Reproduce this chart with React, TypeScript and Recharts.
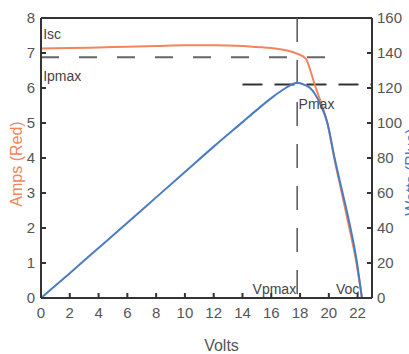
import React from "react";
import {
  LineChart,
  Line,
  XAxis,
  YAxis,
  ReferenceLine,
  ReferenceDot,
} from "recharts";

// I-V and P-V curve of a PV module
const volts = [0, 2, 4, 6, 8, 10, 12, 14, 15, 16, 17, 17.8, 18.4, 18.7, 19, 19.4, 19.9, 20.4, 20.9, 21.4, 21.9, 22.3];
const amps = [7.13, 7.14, 7.16, 7.18, 7.2, 7.22, 7.22, 7.2, 7.17, 7.14, 7.08, 6.98, 6.84, 6.52, 6.12, 5.65, 5.0, 3.95, 3.0, 2.05, 1.05, 0];
const watts = [0, 14.2, 28.6, 43, 57.5, 72, 86.5, 100.5, 107.5, 114.2, 120, 123, 121.5, 120, 117, 111, 100, 80, 62, 44, 23, 0];

const voltTicks = [0, 2, 4, 6, 8, 10, 12, 14, 16, 18, 20, 22];
const ampTicks = [0, 1, 2, 3, 4, 5, 6, 7, 8];
const wattTicks = [0, 20, 40, 60, 80, 100, 120, 140, 160];

const ipmax = 6.88;
const vpmax = 17.8;
const pmax = 122;

const data = volts.map((v, i) => ({ v, a: amps[i], w: watts[i] }));

const FONT = "'Liberation Sans', Arial, sans-serif";
const AXIS = "#333";
const RED = "#f4845a";
const BLUE = "#4a7cc2";
const tickStyle = { fill: "#555", fontSize: 15, fontFamily: FONT };
const noteStyle = { fill: "#444", fontSize: 14, fontFamily: FONT };

export default function App() {
  return (
    <div style={{ position: "absolute", left: 0, top: 0, background: "#fff" }}>
      <LineChart
        width={409}
        height={354}
        data={data}
        margin={{ top: 18, right: 0, bottom: 0, left: 0 }}
      >
        <XAxis
          dataKey="v"
          type="number"
          domain={[0, 23]}
          ticks={voltTicks}
          stroke={AXIS}
          strokeWidth={2}
          tickSize={-5}
          tickMargin={14}
          height={56}
          tick={tickStyle}
          label={{ value: "Volts", position: "insideBottom", offset: 3, dx: 15, style: { ...tickStyle, fontSize: 16 } }}
        />
        <YAxis
          yAxisId="left"
          domain={[0, 8]}
          ticks={ampTicks}
          stroke={AXIS}
          strokeWidth={2}
          tickSize={-5}
          tickMargin={11}
          width={41}
          tick={tickStyle}
          label={{ value: "Amps (Red)", angle: -90, position: "insideLeft", offset: 16, dy: 6, style: { fill: RED, fontSize: 16, fontFamily: FONT, textAnchor: "middle" } }}
        />
        <YAxis
          yAxisId="right"
          orientation="right"
          domain={[0, 160]}
          ticks={wattTicks}
          stroke={AXIS}
          strokeWidth={2}
          tickSize={-5}
          tickMargin={10}
          width={37}
          tick={tickStyle}
          label={{ value: "Watts (Blue)", angle: -90, position: "insideRight", offset: -2, dy: 14, style: { fill: BLUE, fontSize: 16, fontFamily: FONT, textAnchor: "middle" } }}
        />
        <ReferenceLine yAxisId="left" y={8} stroke={AXIS} strokeWidth={2} />
        <ReferenceLine
          yAxisId="left"
          segment={[{ x: 0, y: ipmax }, { x: 20, y: ipmax }]}
          stroke="#666"
          strokeWidth={2}
          strokeDasharray="18 20"
        />
        <ReferenceLine
          yAxisId="right"
          segment={[{ x: 14, y: pmax }, { x: 23, y: pmax }]}
          stroke="#333"
          strokeWidth={2}
          strokeDasharray="20 12"
        />
        <ReferenceLine
          yAxisId="left"
          segment={[{ x: vpmax, y: 8 }, { x: vpmax, y: 0 }]}
          stroke="#555"
          strokeWidth={1.5}
          strokeDasharray="24 18"
        />
        <Line yAxisId="left" dataKey="a" type="monotone" stroke={RED} strokeWidth={2} dot={false} isAnimationActive={false} />
        <Line yAxisId="right" dataKey="w" type="monotone" stroke={BLUE} strokeWidth={2} dot={false} isAnimationActive={false} />
        <ReferenceDot yAxisId="left" x={0.15} y={7.54} r={0} fill="none" stroke="none" label={{ value: "Isc", position: "right", offset: 0, style: noteStyle }} />
        <ReferenceDot yAxisId="left" x={0.15} y={6.34} r={0} fill="none" stroke="none" label={{ value: "Ipmax", position: "right", offset: 0, style: noteStyle }} />
        <ReferenceDot yAxisId="left" x={17.9} y={5.55} r={0} fill="none" stroke="none" label={{ value: "Pmax", position: "right", offset: 0, style: noteStyle }} />
        <ReferenceDot yAxisId="left" x={vpmax} y={0.26} r={0} fill="none" stroke="none" label={{ value: "Vpmax", position: "left", offset: 1, style: noteStyle }} />
        <ReferenceDot yAxisId="left" x={20.5} y={0.26} r={0} fill="none" stroke="none" label={{ value: "Voc", position: "right", offset: 0, style: noteStyle }} />
      </LineChart>
    </div>
  );
}
